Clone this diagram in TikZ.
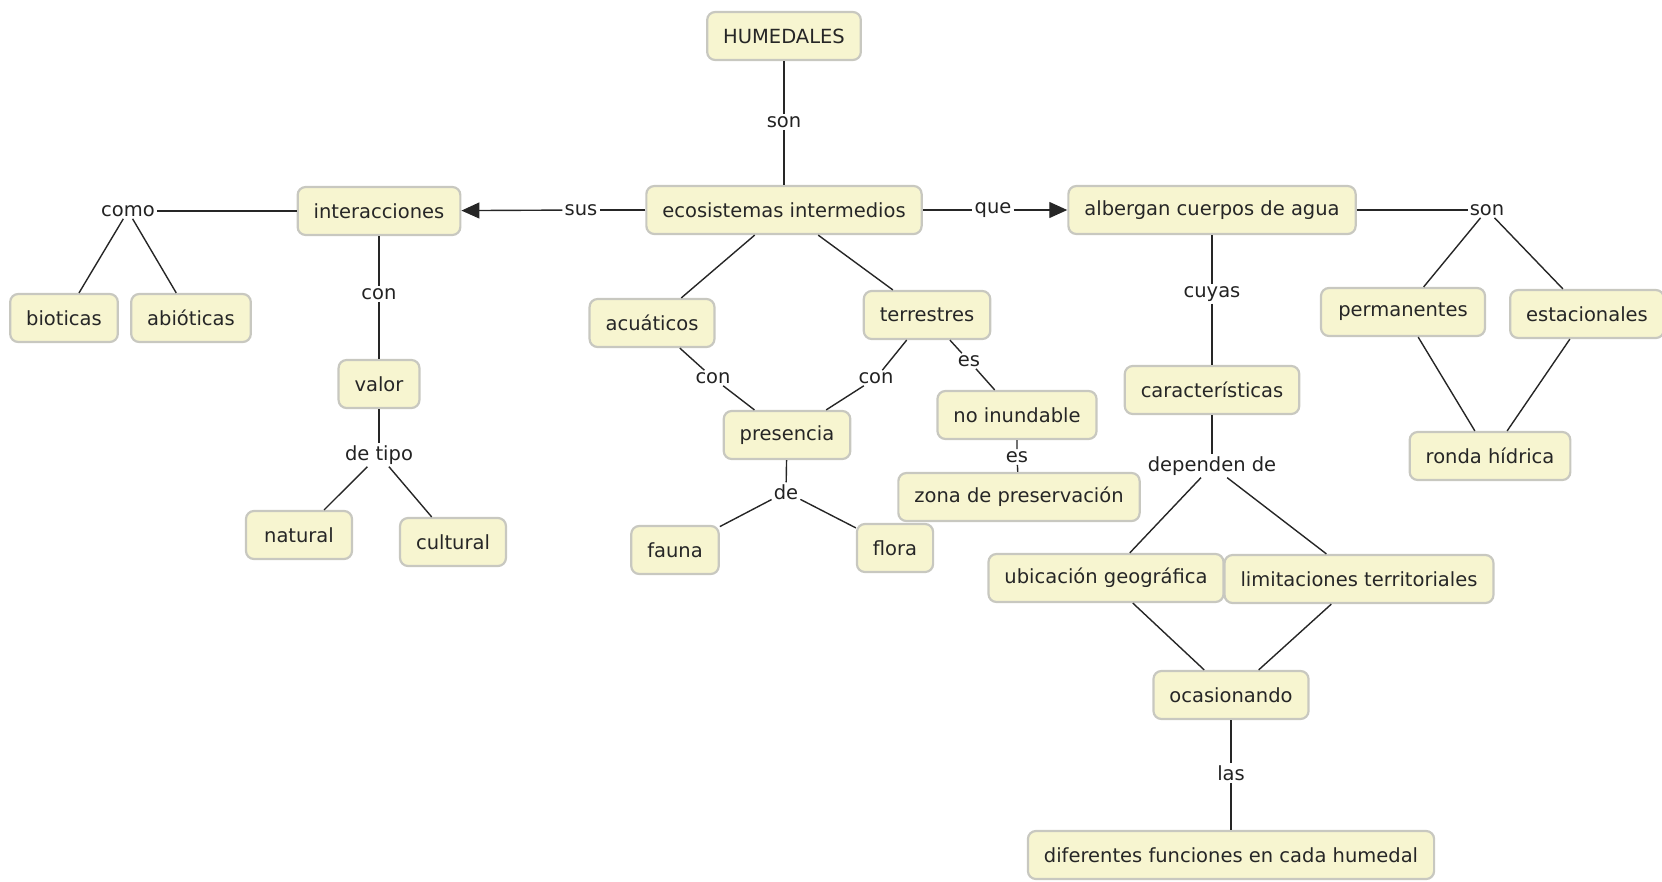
\documentclass[tikz,border=0pt]{standalone}
\usepackage{fontspec}
\setmainfont{DejaVu Sans}
\usepackage{xcolor}
\usepackage{tikz}
\usetikzlibrary{positioning, arrows.meta, calc}
\definecolor{conceptfill}{RGB}{247,245,208}
\definecolor{conceptedge}{RGB}{200,200,192}
\definecolor{phrasetext}{RGB}{34,34,34}

\begin{document}
\begin{tikzpicture}[x=1pt, y=-1pt,
  concept/.style={draw=conceptedge, line width=2.2pt, fill=conceptfill, rounded corners=8pt,
    inner xsep=16pt, minimum height=48pt, text=black!85, font=\fontsize{19.5}{23}\selectfont},
  phrase/.style={inner sep=2pt, text=phrasetext, font=\fontsize{19.5}{23}\selectfont},
  link/.style={line width=1.4pt, draw=black!85},
  arrowlink/.style={link, -{Triangle[length=18pt, width=16pt]}}]
\useasboundingbox (0,0) rectangle (1662,881);

% concepts
\node[concept] (humedales) at (784,36) {HUMEDALES};
\node[concept] (ecosistemas) at (784,210) {ecosistemas intermedios};
\node[concept] (interacciones) at (379,211) {interacciones};
\node[concept] (albergan) at (1212,210) {albergan cuerpos de agua};
\node[concept] (bioticas) at (64,318) {bioticas};
\node[concept] (abioticas) at (191,318) {abióticas};
\node[concept] (valor) at (379,384) {valor};
\node[concept, minimum width=106pt] (natural) at (299,535) {natural};
\node[concept] (cultural) at (453,542) {cultural};
\node[concept] (acuaticos) at (652,323) {acuáticos};
\node[concept] (terrestres) at (927,315) {terrestres};
\node[concept] (presencia) at (787,435) {presencia};
\node[concept] (noinundable) at (1017,415) {no inundable};
\node[concept] (zona) at (1019,497) {zona de preservación};
\node[concept] (fauna) at (675,550) {fauna};
\node[concept] (flora) at (895,548) {flora};
\node[concept] (caracteristicas) at (1212,390) {características};
\node[concept, minimum width=164pt] (permanentes) at (1403,312) {permanentes};
\node[concept] (estacionales) at (1587,314) {estacionales};
\node[concept] (ronda) at (1490,456) {ronda hídrica};
\node[concept] (ubicacion) at (1106,578) {ubicación geográfica};
\node[concept] (limitaciones) at (1359,579) {limitaciones territoriales};
\node[concept] (ocasionando) at (1231,695) {ocasionando};
\node[concept] (diferentes) at (1231,855) {diferentes funciones en cada humedal};

% linking phrases
\node[phrase] (sonA) at (784,122) {son};
\node[phrase] (sus) at (581,210) {sus};
\node[phrase] (que) at (993,210) {que};
\node[phrase] (como) at (128,211) {como};
\node[phrase] (conA) at (379,294) {con};
\node[phrase] (detipo) at (379,455) {de tipo};
\node[phrase] (conB) at (713,378) {con};
\node[phrase] (conC) at (876,378) {con};
\node[phrase] (esA) at (969,361) {es};
\node[phrase] (esB) at (1017,457) {es};
\node[phrase] (de) at (786,492) {de};
\node[phrase] (cuyas) at (1212,294) {cuyas};
\node[phrase] (sonB) at (1487,210) {son};
\node[phrase] (dependen) at (1212,466) {dependen de};
\node[phrase] (las) at (1231,773) {las};

% connections
\draw[link] (humedales) -- (sonA) -- (ecosistemas);
\draw[link] (ecosistemas) -- (sus);
\draw[arrowlink] (sus) -- (interacciones);
\draw[link] (ecosistemas) -- (que);
\draw[arrowlink] (que) -- (albergan);
\draw[link] (interacciones) -- (como);
\draw[link] (como) -- (bioticas);
\draw[link] (como) -- (abioticas);
\draw[link] (interacciones) -- (conA) -- (valor) -- (detipo);
\draw[link] (detipo) -- (natural);
\draw[link] (detipo) -- (cultural);
\draw[link] (ecosistemas) -- (acuaticos);
\draw[link] (ecosistemas) -- (terrestres);
\draw[link] (acuaticos) -- (conB) -- (presencia);
\draw[link] (terrestres) -- (conC) -- (presencia);
\draw[link] (terrestres) -- (esA) -- (noinundable) -- (esB) -- (zona);
\draw[link] (presencia) -- (de);
\draw[link] (de) -- (fauna);
\draw[link] (de) -- (flora);
\draw[link] (albergan) -- (cuyas) -- (caracteristicas) -- (dependen);
\draw[link] (dependen) -- (ubicacion);
\draw[link] (dependen) -- (limitaciones);
\draw[link] (albergan) -- (sonB);
\draw[link] (sonB) -- (permanentes);
\draw[link] (sonB) -- (estacionales);
\draw[link] (permanentes) -- (ronda);
\draw[link] (estacionales) -- (ronda);
\draw[link] (ubicacion) -- (ocasionando);
\draw[link] (limitaciones) -- (ocasionando);
\draw[link] (ocasionando) -- (las) -- (diferentes);
\end{tikzpicture}
\end{document}
